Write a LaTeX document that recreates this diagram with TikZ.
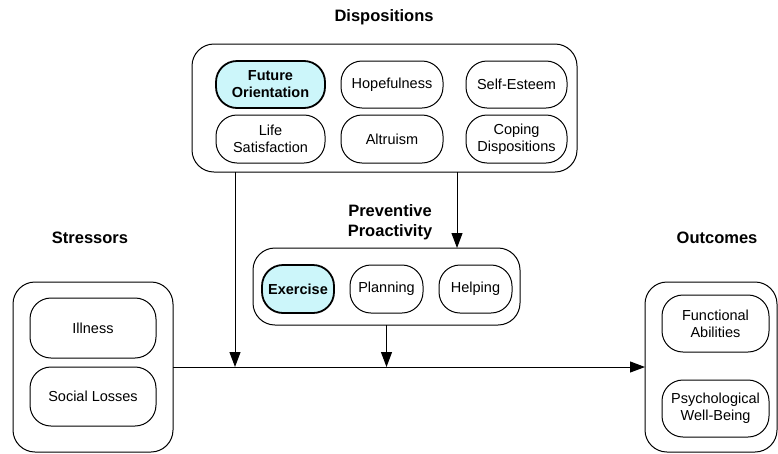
\documentclass[tikz,border=0pt]{standalone}
\usepackage{fontspec}
\setmainfont{Liberation Sans}
\usetikzlibrary{arrows.meta}
\definecolor{hilite}{RGB}{204,246,250}

\begin{document}
\begin{tikzpicture}[x=1pt,y=-1pt,
  every node/.style={align=center, inner sep=0pt, outer sep=0pt, font=\fontsize{14.5}{17}\selectfont},
  group/.style={draw, line width=1pt, rounded corners=22pt},
  factor/.style={draw, line width=1pt, rounded corners=21pt},
  key/.style={factor, fill=hilite, line width=1.8pt, font=\fontsize{14.5}{17}\selectfont\bfseries},
  heading/.style={font=\fontsize{16.5}{20}\selectfont\bfseries},
  arr/.style={line width=1pt, -{Triangle[length=15pt,width=11pt]}}]
\useasboundingbox (0,0) rectangle (778,453);

% dispositions
\node[group, minimum width=385pt, minimum height=128pt] (disp) at (384.5,108) {};
\node[heading] (dispT) at (384,17) {Dispositions};
\node[key, minimum width=109pt, minimum height=47pt] (fut) at (270.5,84.5) {Future\\Orientation};
\node[factor, minimum width=102pt, minimum height=47pt] (hope) at (392,84.5) {Hopefulness};
\node[factor, minimum width=101pt, minimum height=47pt] (self) at (516.5,84.5) {Self-Esteem};
\node[factor, minimum width=109pt, minimum height=48pt] (life) at (270.5,139) {Life\\Satisfaction};
\node[factor, minimum width=102pt, minimum height=48pt] (altr) at (392,139) {Altruism};
\node[factor, minimum width=101pt, minimum height=48pt] (cope) at (516.5,139) {Coping\\Dispositions};

% preventive proactivity
\node[group, minimum width=267pt, minimum height=77pt] (prev) at (386.5,286.5) {};
\node[heading] (prevT) at (390,222) {Preventive\\Proactivity};
\node[key, minimum width=72pt, minimum height=48pt] (exer) at (298,289) {Exercise};
\node[factor, minimum width=73pt, minimum height=48pt] (plan) at (386.5,289) {Planning};
\node[factor, minimum width=73pt, minimum height=48pt] (help) at (475.5,289) {Helping};

% stressors
\node[group, minimum width=160pt, minimum height=170pt] (stress) at (93,367) {};
\node[heading] (stressT) at (90,238) {Stressors};
\node[factor, minimum width=126pt, minimum height=60pt] (ill) at (93,328) {Illness};
\node[factor, minimum width=126pt, minimum height=59pt] (loss) at (93,396.5) {Social Losses};

% outcomes
\node[group, minimum width=132pt, minimum height=170pt] (out) at (711,367) {};
\node[heading] (outT) at (717,238) {Outcomes};
\node[factor, minimum width=107pt, minimum height=57pt] (func) at (715.5,323.5) {Functional\\Abilities};
\node[factor, minimum width=107pt, minimum height=57pt] (psy) at (715.5,408.5) {Psychological\\Well-Being};

% connectors
\coordinate (dl) at (235,0);
\coordinate (dr) at (457,0);
\draw[arr] (stress.east) -- (out.west);
\draw[arr] (disp.south -| dl) -- (stress.east -| dl);
\draw[arr] (disp.south -| dr) -- (prev.north -| dr);
\draw[arr] (prev.south) -- (prev.south |- stress.east);
\end{tikzpicture}
\end{document}
